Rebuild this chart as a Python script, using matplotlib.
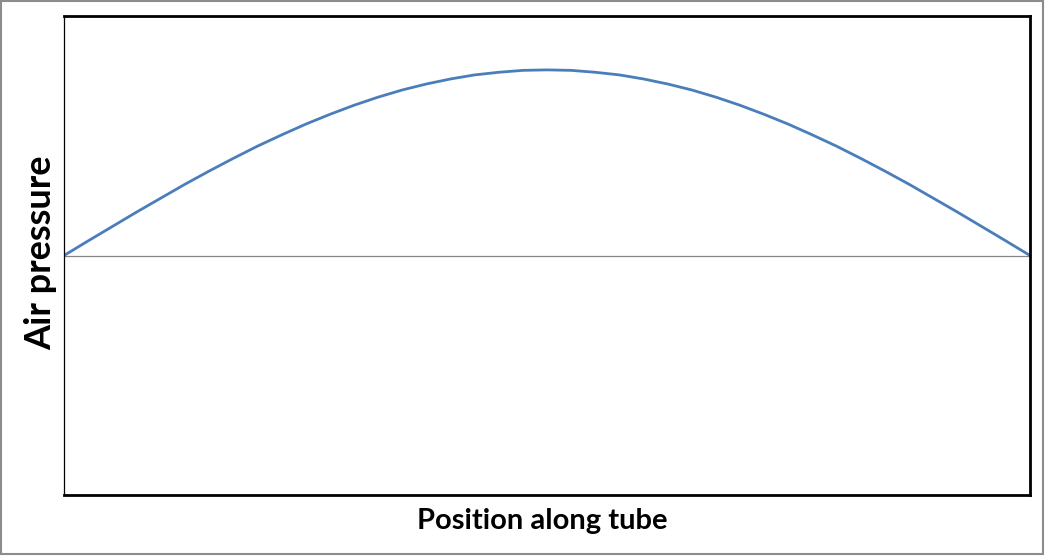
import matplotlib
matplotlib.use("Agg")
import matplotlib.pyplot as plt
from matplotlib.patches import Rectangle

# position along the tube (fraction of length) and pressure
position = [0.0, 0.025, 0.05, 0.075, 0.10, 0.125, 0.15, 0.175, 0.20, 0.225,
            0.25, 0.275, 0.30, 0.325, 0.35, 0.375, 0.40, 0.425, 0.45, 0.475,
            0.50, 0.525, 0.55, 0.575, 0.60, 0.625, 0.65, 0.675, 0.70, 0.725,
            0.75, 0.775, 0.80, 0.825, 0.85, 0.875, 0.90, 0.925, 0.95, 0.975, 1.0]
pressure = [0.0, 0.061, 0.121, 0.181, 0.239, 0.297, 0.352, 0.405, 0.456, 0.503,
            0.548, 0.589, 0.627, 0.661, 0.691, 0.716, 0.737, 0.754, 0.765, 0.773,
            0.775, 0.773, 0.765, 0.754, 0.737, 0.716, 0.691, 0.661, 0.627, 0.589,
            0.548, 0.503, 0.456, 0.405, 0.352, 0.297, 0.239, 0.181, 0.121, 0.061, 0.0]

x_label = "Position along tube"
y_label = "Air pressure"

fig = plt.figure(figsize=(10.45, 5.56), dpi=100)
ax = fig.add_axes([64 / 1045, 1 - 495 / 556, (1030 - 64) / 1045, (495 - 16) / 556])

ax.axhline(0, color="#868686", lw=0.9, zorder=1)
ax.plot(position, pressure, color="#4a7ebb", lw=2.0, zorder=2,
        solid_capstyle="round", solid_joinstyle="round")

ax.set_xlim(0, 1)
ax.set_ylim(-1, 1)
ax.set_xticks([])
ax.set_yticks([])
for side, spine in ax.spines.items():
    spine.set_color("black")
    spine.set_linewidth(0.9 if side == "left" else 2.0)

font = ["Lato", "DejaVu Sans"]
fig.text(542 / 1045, 1 - 521 / 556, x_label, ha="center", va="center",
         fontsize=21, fontweight="bold", family=font)
fig.text(41 / 1045, 1 - 253 / 556, y_label, ha="center", va="center",
         rotation=90, fontsize=26, fontweight="bold", family=font)

# grey frame round the whole picture
fig.patches.append(Rectangle((0.001, 0.003), 0.997, 0.995, transform=fig.transFigure,
                             fill=False, edgecolor="#8c8c8c", lw=1.5))

fig.savefig("out.png", dpi=100)
